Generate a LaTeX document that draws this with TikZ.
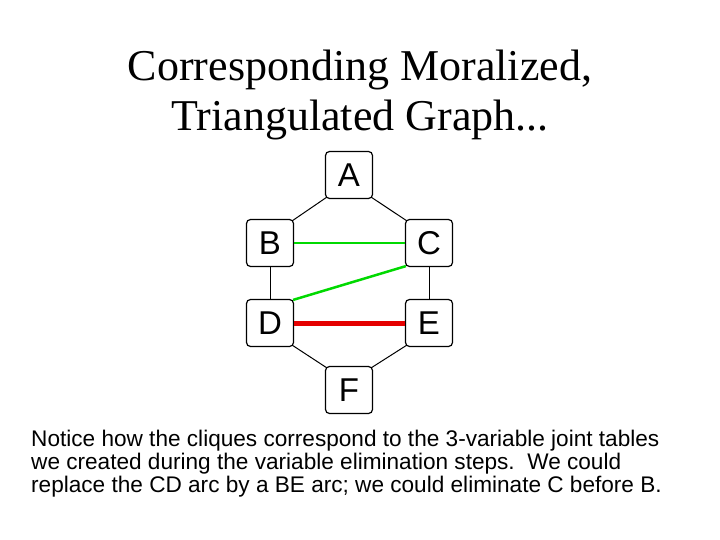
\documentclass[tikz,border=0pt]{standalone}
\usepackage{fontspec}
\setmainfont{Liberation Serif}
\newfontfamily\arial{Liberation Sans}
\begin{document}
\begin{tikzpicture}[x=1pt,y=-1pt,
  vbox/.style={draw=black,line width=1.2pt,rounded corners=4pt,minimum width=47pt,minimum height=47pt,inner sep=0pt,font=\arial\fontsize{33}{33}\selectfont},
  edge/.style={line width=1pt,black},
  gedge/.style={line width=2.5pt,green!85!black},
  redge/.style={line width=5pt,red!90!black}]
\useasboundingbox (0,0) rectangle (720,540);
\node[font=\fontsize{44}{50}\selectfont,align=center] (title) at (360,95) {Corresponding Moralized,\\Triangulated Graph...};
\node[vbox] (a) at (349,175) {A};
\node[vbox] (b) at (270,243) {B};
\node[vbox] (c) at (429,243) {C};
\node[vbox] (d) at (270,323) {D};
\node[vbox] (e) at (429,323) {E};
\node[vbox] (f) at (349,390) {F};
\draw[edge] ([shift={(2,-2)}]a.south west) -- ([shift={(-2,2)}]b.north east);
\draw[edge] ([shift={(-2,-2)}]a.south east) -- ([shift={(2,2)}]c.north west);
\draw[edge] (b.south) -- (d.north);
\draw[edge] (c.south) -- (e.north);
\draw[edge] ([shift={(-2,-2)}]d.south east) -- ([shift={(2,2)}]f.north west);
\draw[edge] ([shift={(2,-2)}]e.south west) -- ([shift={(-2,2)}]f.north east);
\draw[gedge] (b.east) -- (c.west);
\draw[gedge] ([shift={(1,-1)}]c.south west) -- ([shift={(-1,1)}]d.north east);
\draw[redge] (d.east) -- (e.west);
\node[anchor=north west,align=left,font=\arial\fontsize{22.6}{23}\selectfont,inner sep=0pt] (txt) at (31,430) {Notice how the cliques correspond to the 3-variable joint tables\\we created during the variable elimination steps.\ \ We could\\replace the CD arc by a BE arc; we could eliminate C before B.};
\end{tikzpicture}
\end{document}
